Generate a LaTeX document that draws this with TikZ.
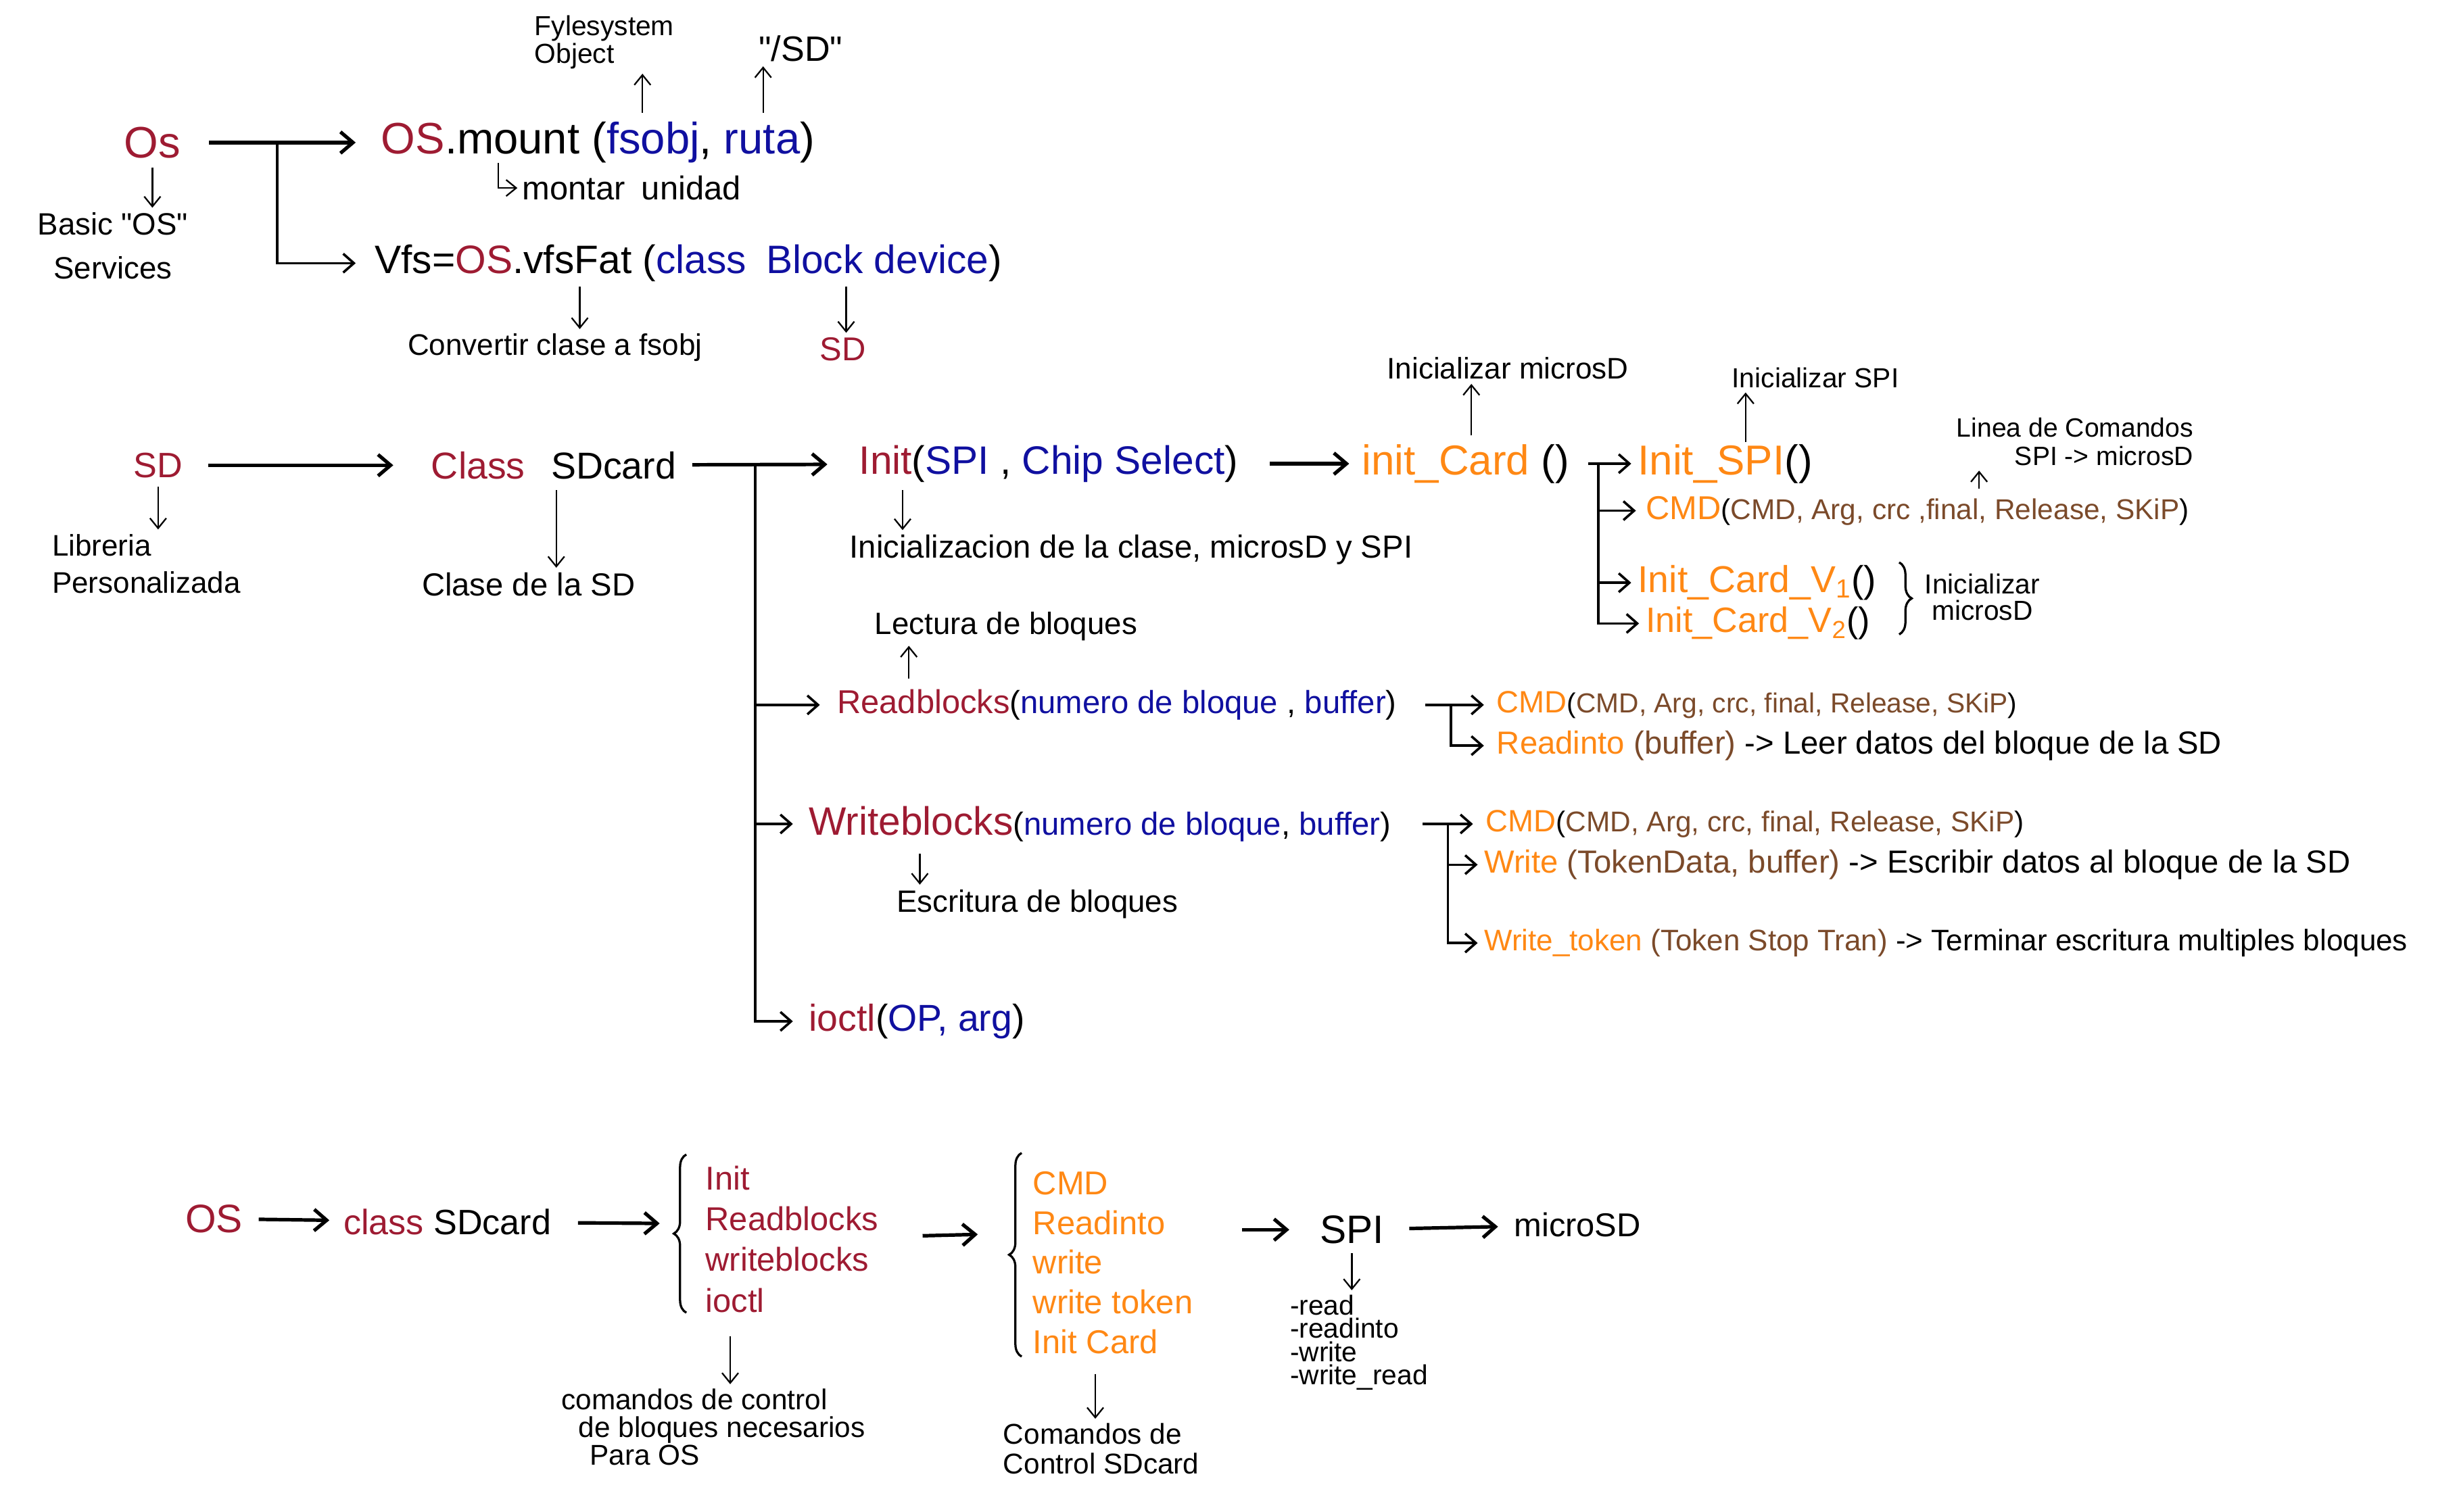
\documentclass[tikz,border=0pt]{standalone}
\usepackage{fontspec}
\setmainfont{Liberation Sans}
\usepackage{xcolor}
\usepackage{tikz}
\usetikzlibrary{arrows.meta,decorations.pathreplacing}
\definecolor{cred}{RGB}{158,27,50}
\definecolor{cblue}{RGB}{16,16,160}
\definecolor{corange}{RGB}{255,136,20}
\definecolor{cbrown}{RGB}{123,74,42}
\newcommand{\fsz}[2]{\fontsize{#1}{#2}\selectfont}

\begin{document}
\begin{tikzpicture}[
    x=0.025cm, y=-0.025cm,
    txt/.style={inner sep=0pt, anchor=west},
    arrow/.style={-{Straight Barb[length=2mm,width=3.4mm]}, line width=1.6pt},
    branch/.style={-{Straight Barb[length=1.7mm,width=3mm]}, line width=1.1pt},
    thinarrow/.style={-{Straight Barb[length=1.6mm,width=2.6mm]}, line width=0.7pt, shorten >=2pt},
    curly/.style={decorate, decoration={brace, amplitude=#1}, line width=1pt},
    curly/.default=2mm
]
\fill[white] (0,0) rectangle (1568,965);
\useasboundingbox (0,0) rectangle (1568,965);

\node[txt, font=\fsz{20}{24}, text=cred] (os) at (79,91) {Os};
\node[txt, font=\fsz{20}{24}] (mount) at (243,91) {\textcolor{cred}{OS}.mount (\textcolor{cblue}{fsobj}, \textcolor{cblue}{ruta})};
\node[txt, font=\fsz{18}{22}] (vfs) at (239,168) {Vfs=\textcolor{cred}{OS}.vfsFat (\textcolor{cblue}{class\enspace Block device})};
\node[txt, font=\fsz{12.5}{12.5}, align=left] (fyle) at (341,27) {Fylesystem\\Object};
\node[txt, font=\fsz{16}{19}] (path) at (484,31) {\textquotedbl/SD\textquotedbl};
\node[font=\fsz{14}{20}, inner sep=0pt, align=center] (basic) at (72,157) {Basic \textquotedbl OS\textquotedbl\\Services};
\node[txt, font=\fsz{15}{18}] (montar) at (333,120) {montar\enspace unidad};
\node[txt, font=\fsz{13.5}{16}] (conv) at (260,222) {Convertir clase a fsobj};
\node[font=\fsz{15}{18}, text=cred, inner sep=0pt] (sdblk) at (538,223) {SD};

\node[txt, font=\fsz{16}{19}, text=cred] (sd) at (85,297) {SD};
\node[txt, font=\fsz{17}{20}] (cls) at (275,297) {\textcolor{cred}{Class}\hspace{0.7em}SDcard};
\node[txt, font=\fsz{13.5}{17}, align=left] (lib) at (33,360) {Libreria\\Personalizada};
\node[txt, font=\fsz{14.5}{17}] (clase) at (269,373) {Clase de la SD};
\node[txt, font=\fsz{18}{21}] (init) at (548,296) {\textcolor{cred}{Init}(\textcolor{cblue}{SPI} , \textcolor{cblue}{Chip Select})};
\node[txt, font=\fsz{14.5}{17}] (inicls) at (542,351) {Inicializacion de la clase, microsD y SPI};
\node[txt, font=\fsz{19}{22}] (initcard) at (869,296) {\textcolor{corange}{init\_Card} ()};
\node[txt, font=\fsz{13.5}{16}] (inimsd) at (885,235) {Inicializar microsD};
\node[txt, font=\fsz{19}{22}] (initspi) at (1045,296) {\textcolor{corange}{Init\_SPI}()};
\node[txt, font=\fsz{12.5}{15}] (inispi) at (1105,241) {Inicializar SPI};
\node[font=\fsz{12}{13}, inner sep=0pt, anchor=east, align=right] (linea) at (1400,282) {Linea de Comandos\\SPI -> microsD};
\node[txt, font=\fsz{13}{16}] (cmda) at (1050,326) {{\fsz{15}{16}\color{corange}CMD}(\textcolor{cbrown}{CMD, Arg, crc ,final, Release, SKiP})};
\node[txt, font=\fsz{17}{20}] (cv1) at (1045,372) {\textcolor{corange}{Init\_Card\_V\textsubscript{1}}()};
\node[txt, font=\fsz{16}{19}] (cv2) at (1050,398) {\textcolor{corange}{Init\_Card\_V\textsubscript{2}}()};
\draw[curly] (1212,359) -- (1212,405);
\node[font=\fsz{12.5}{12}, inner sep=0pt, align=center] (inimsd2) at (1265,381) {Inicializar\\microsD};

\node[txt, font=\fsz{14}{17}] (lect) at (558,400) {Lectura de bloques};
\node[txt, font=\fsz{14.5}{17}] (rb) at (534,450) {{\fsz{15}{17}\color{cred}Readblocks}(\textcolor{cblue}{numero de bloque} , \textcolor{cblue}{buffer})};
\node[txt, font=\fsz{12.5}{15}] (rbcmd) at (955,450) {{\fsz{14}{15}\color{corange}CMD}(\textcolor{cbrown}{CMD, Arg, crc, final, Release, SKiP})};
\node[txt, font=\fsz{14.5}{17}] (rdinto) at (955,476) {\textcolor{corange}{Readinto} \textcolor{cbrown}{(buffer)} -> Leer datos del bloque de la SD};
\node[txt, font=\fsz{14.5}{17}] (wb) at (516,526) {{\fsz{18}{20}\color{cred}Writeblocks}(\textcolor{cblue}{numero de bloque}, \textcolor{cblue}{buffer})};
\node[txt, font=\fsz{13}{15}] (wbcmd) at (948,526) {{\fsz{14}{15}\color{corange}CMD}(\textcolor{cbrown}{CMD, Arg, crc, final, Release, SKiP})};
\node[txt, font=\fsz{14.5}{17}] (wr) at (947,552) {\textcolor{corange}{Write} \textcolor{cbrown}{(TokenData, buffer)} -> Escribir datos al bloque de la SD};
\node[txt, font=\fsz{13.5}{16}] (wtok) at (947,602) {\textcolor{corange}{Write\_token} \textcolor{cbrown}{(Token Stop Tran)} -> Terminar escritura multiples bloques};
\node[txt, font=\fsz{14}{17}] (escr) at (572,577) {Escritura de bloques};
\node[txt, font=\fsz{17}{20}] (io) at (516,652) {\textcolor{cred}{ioctl}(\textcolor{cblue}{OP, arg})};

\node[txt, font=\fsz{18}{21}, text=cred] (os3) at (118,778) {OS};
\node[txt, font=\fsz{16}{19}] (cls3) at (219,780) {\textcolor{cred}{class} SDcard};
\draw[curly] (438,838) -- (438,737);
\node[txt, font=\fsz{15}{18.5}, text=cred, align=left] (redlist) at (450,791) {Init\\Readblocks\\writeblocks\\ioctl};
\node[txt, font=\fsz{13}{12.5}, align=left] (cmdctl) at (358,911) {comandos de control\\\hspace*{0.6em}de bloques necesarios\\\hspace*{1em}Para OS};
\draw[curly] (652,866) -- (652,736);
\node[txt, font=\fsz{15}{18}, text=corange, align=left] (orlist) at (659,806) {CMD\\Readinto\\write\\write token\\Init Card};
\node[txt, font=\fsz{13}{13.5}, align=left] (ctlsd) at (640,925) {Comandos de\\Control SDcard};
\node[txt, font=\fsz{18}{21}] (spi3) at (842,785) {SPI};
\node[txt, font=\fsz{15}{18}] (micro) at (966,782) {microSD};
\node[txt, font=\fsz{12.5}{10.5}, align=left] (spilist) at (823,857) {-read\\-readinto\\-write\\-write\_read};

\coordinate (j1) at (177,91);
\draw[arrow, shorten <=0.45cm, shorten >=0.4cm] (os) -- (mount);
\draw[branch, shorten >=0.3cm] (j1) |- (vfs);
\coordinate (f1) at (410,72);
\draw[thinarrow] (f1) -- (f1 |- fyle.south);
\coordinate (f2) at (487,72);
\draw[thinarrow] (f2) -- (f2 |- path.south);
\draw[thinarrow, shorten <=4pt] (os.south) -- (os.south |- basic.north);
\coordinate (h1) at (318,104);
\draw[thinarrow] (h1) |- (montar);
\coordinate (c1) at (370,183);
\draw[thinarrow] (c1) -- (c1 |- conv.north);
\coordinate (c2) at (540,183);
\draw[thinarrow] (c2) -- (c2 |- sdblk.north);

\draw[arrow, shorten <=0.4cm, shorten >=0.6cm] (sd) -- (cls);
\draw[thinarrow, shorten <=4pt] (sd.south) -- (sd.south |- lib.north);
\coordinate (c3) at (355,313);
\draw[thinarrow] (c3) -- (c3 |- clase.north);
\draw[arrow, shorten <=0.25cm, shorten >=0.5cm] (cls) -- (init);
\coordinate (j2) at (482,296);
\draw[branch, shorten >=0.27cm] (j2) |- (rb);
\draw[branch, shorten >=0.25cm] (j2) |- (wb);
\draw[branch, shorten >=0.25cm] (j2) |- (io);
\coordinate (c4) at (576,313);
\draw[thinarrow] (c4) -- (c4 |- inicls.north);
\draw[arrow, shorten <=0.5cm, shorten >=0.2cm] (init) -- (initcard);
\coordinate (c5) at (939,278);
\draw[thinarrow] (c5) -- (c5 |- inimsd.south);
\coordinate (j3) at (1020,296);
\draw[branch, shorten <=0.3cm, shorten >=0.1cm] (initcard) -- (initspi);
\draw[branch, shorten >=0.15cm] (j3) |- (cmda);
\draw[branch, shorten >=0.1cm] (j3) |- (cv1);
\draw[branch, shorten >=0.1cm] (j3) |- (cv2);
\coordinate (c6) at (1114,282);
\draw[thinarrow] (c6) -- (c6 |- inispi.south);
\coordinate (c7) at (1263,312);
\draw[thinarrow] (c7) -- (c7 |- linea.south);

\coordinate (c8) at (580,433);
\draw[thinarrow] (c8) -- (c8 |- lect.south);
\coordinate (j4) at (926,450);
\draw[branch, shorten <=0.45cm, shorten >=0.2cm] (rb) -- (rbcmd);
\draw[branch, shorten >=0.2cm] (j4) |- (rdinto);
\coordinate (j5) at (924,526);
\draw[branch, shorten <=0.5cm, shorten >=0.2cm] (wb) -- (wbcmd);
\draw[branch, shorten >=0.1cm] (j5) |- (wr);
\draw[branch, shorten >=0.1cm] (j5) |- (wtok);
\coordinate (c9) at (587,545);
\draw[thinarrow] (c9) -- (c9 |- escr.north);

\draw[arrow, shorten <=0.25cm, shorten >=0.22cm] (os3) -- (cls3);
\coordinate (t1) at (421,781);
\draw[arrow, shorten <=0.42cm] (cls3) -- (t1);
\coordinate (t2) at (624,788);
\draw[arrow, shorten <=0.7cm] (redlist) -- (t2);
\draw[arrow, shorten <=0.78cm, shorten >=0.48cm] (orlist.east |- spi3) -- (spi3);
\draw[arrow, shorten <=0.4cm, shorten >=0.25cm] (spi3) -- (micro);
\coordinate (c10) at (466,853);
\draw[thinarrow] (c10) -- (c10 |- cmdctl.north);
\coordinate (c11) at (699,877);
\draw[thinarrow] (c11) -- (c11 |- ctlsd.north);
\draw[thinarrow, shorten <=4pt] (spi3.south) -- (spi3.south |- spilist.north);
\end{tikzpicture}
\end{document}
